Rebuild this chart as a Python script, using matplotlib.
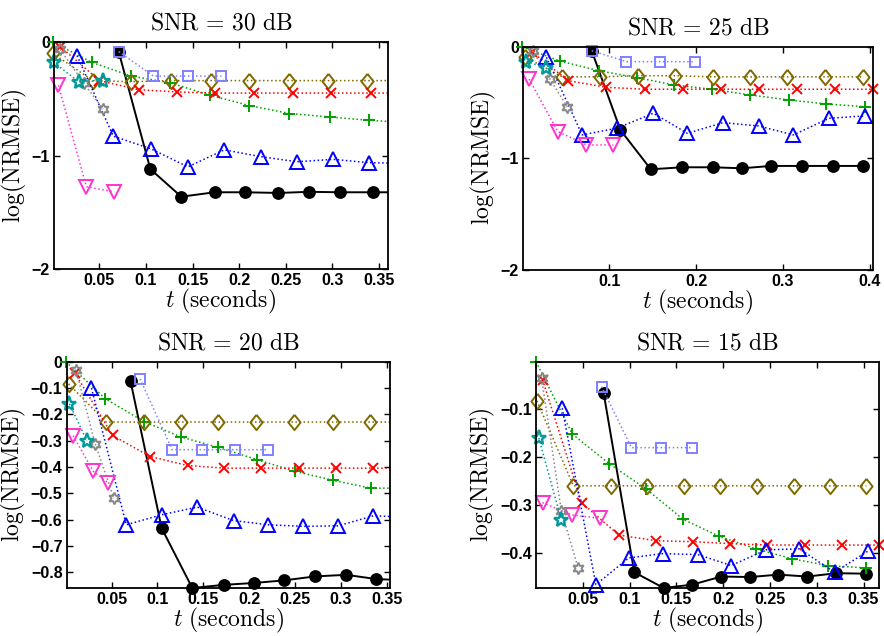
import numpy as np
import matplotlib
matplotlib.use("Agg")
import matplotlib.pyplot as plt

plt.rcParams["mathtext.fontset"] = "cm"

# ---- SNR = 30 dB ----
s30_prop_t = [0.0707, 0.1047, 0.1379, 0.1736, 0.2065, 0.2422, 0.2751, 0.3084, 0.3441, 0.378]
s30_prop_v = [-0.085, -1.12, -1.363, -1.324, -1.324, -1.33, -1.32, -1.324, -1.324, -1.324]
s30_sq_t = [0.0707, 0.108, 0.145, 0.181]
s30_sq_v = [-0.085, -0.30, -0.30, -0.30]
s30_dia_t = [0.0, 0.043, 0.084, 0.127, 0.170, 0.211, 0.253, 0.295, 0.337, 0.379]
s30_dia_v = [-0.10, -0.34, -0.35, -0.34, -0.34, -0.34, -0.34, -0.34, -0.34, -0.34]
s30_plus_t = [0.0, 0.042, 0.084, 0.126, 0.169, 0.211, 0.254, 0.297, 0.339, 0.381]
s30_plus_v = [0.0, -0.18, -0.30, -0.36, -0.47, -0.56, -0.63, -0.66, -0.69, -0.71]
s30_x_t = [0.008, 0.050, 0.092, 0.133, 0.174, 0.216, 0.258, 0.299, 0.341, 0.383]
s30_x_v = [-0.04, -0.34, -0.42, -0.44, -0.45, -0.45, -0.45, -0.45, -0.45, -0.45]
s30_up_t = [0.026, 0.065, 0.105, 0.145, 0.184, 0.223, 0.262, 0.301, 0.339, 0.378]
s30_up_v = [-0.12, -0.83, -0.94, -1.10, -0.95, -1.01, -1.055, -1.034, -1.063, -1.07]
s30_down_t = [0.006, 0.036, 0.066]
s30_down_v = [-0.38, -1.275, -1.32]
s30_hex_t = [0.008, 0.033, 0.054]
s30_hex_v = [-0.065, -0.36, -0.59]
s30_pent_t = [0.001, 0.028, 0.054]
s30_pent_v = [-0.18, -0.35, -0.34]

# ---- SNR = 25 dB ----
s25_prop_t = [0.080, 0.113, 0.148, 0.184, 0.219, 0.253, 0.286, 0.322, 0.357, 0.392]
s25_prop_v = [-0.036, -0.746, -1.098, -1.08, -1.08, -1.089, -1.068, -1.068, -1.068, -1.068]
s25_sq_t = [0.080, 0.120, 0.158, 0.199]
s25_sq_v = [-0.036, -0.134, -0.134, -0.134]
s25_dia_t = [0.003, 0.046, 0.089, 0.133, 0.176, 0.219, 0.262, 0.305, 0.348, 0.392]
s25_dia_v = [-0.09, -0.27, -0.27, -0.26, -0.26, -0.27, -0.27, -0.27, -0.27, -0.27]
s25_plus_t = [0.0, 0.043, 0.088, 0.132, 0.175, 0.218, 0.262, 0.307, 0.350, 0.394]
s25_plus_v = [0.0, -0.128, -0.215, -0.277, -0.343, -0.381, -0.432, -0.477, -0.513, -0.537]
s25_x_t = [0.011, 0.053, 0.097, 0.141, 0.185, 0.229, 0.272, 0.316, 0.360, 0.403]
s25_x_v = [-0.045, -0.304, -0.364, -0.381, -0.381, -0.381, -0.381, -0.381, -0.381, -0.381]
s25_up_t = [0.028, 0.069, 0.109, 0.151, 0.190, 0.231, 0.272, 0.312, 0.353, 0.394]
s25_up_v = [-0.095, -0.79, -0.73, -0.596, -0.776, -0.68, -0.71, -0.79, -0.641, -0.62]
s25_down_t = [0.008, 0.041, 0.074, 0.105]
s25_down_v = [-0.29, -0.76, -0.88, -0.88]
s25_hex_t = [0.012, 0.032, 0.052]
s25_hex_v = [-0.036, -0.29, -0.54]
s25_pent_t = [0.005, 0.028]
s25_pent_v = [-0.134, -0.19]

# ---- SNR = 20 dB ----
s20_prop_t = [0.0707, 0.1046, 0.138, 0.1726, 0.205, 0.2384, 0.272, 0.306, 0.3385, 0.372]
s20_prop_v = [-0.075, -0.632, -0.859, -0.847, -0.84, -0.83, -0.815, -0.809, -0.825, -0.83]
s20_sq_t = [0.081, 0.116, 0.149, 0.185, 0.221]
s20_sq_v = [-0.065, -0.334, -0.334, -0.334, -0.334]
s20_dia_t = [0.003, 0.044, 0.085, 0.126, 0.166, 0.208, 0.249, 0.291, 0.332, 0.373]
s20_dia_v = [-0.084, -0.229, -0.229, -0.229, -0.229, -0.229, -0.229, -0.229, -0.229, -0.229]
s20_plus_t = [0.0, 0.043, 0.085, 0.126, 0.166, 0.209, 0.250, 0.291, 0.333, 0.374]
s20_plus_v = [0.0, -0.14, -0.227, -0.286, -0.325, -0.372, -0.416, -0.45, -0.48, -0.48]
s20_x_t = [0.010, 0.051, 0.092, 0.133, 0.173, 0.213, 0.254, 0.295, 0.335, 0.375]
s20_x_v = [-0.043, -0.28, -0.36, -0.394, -0.404, -0.404, -0.404, -0.404, -0.404, -0.404]
s20_up_t = [0.028, 0.066, 0.1046, 0.1435, 0.183, 0.221, 0.259, 0.297, 0.3356, 0.374]
s20_up_v = [-0.10, -0.619, -0.581, -0.552, -0.603, -0.619, -0.625, -0.623, -0.585, -0.59]
s20_down_t = [0.008, 0.030, 0.046]
s20_down_v = [-0.281, -0.416, -0.46]
s20_hex_t = [0.011, 0.032, 0.0525]
s20_hex_v = [-0.030, -0.311, -0.518]
s20_pent_t = [0.004, 0.023]
s20_pent_v = [-0.16, -0.30]

# ---- SNR = 15 dB ----
s15_prop_t = [0.0723, 0.105, 0.1365, 0.1669, 0.198, 0.229, 0.259, 0.290, 0.321, 0.353]
s15_prop_v = [-0.066, -0.441, -0.474, -0.467, -0.45, -0.451, -0.446, -0.45, -0.443, -0.444]
s15_sq_t = [0.070, 0.102, 0.134, 0.1665]
s15_sq_v = [-0.052, -0.18, -0.18, -0.18]
s15_dia_t = [0.001, 0.040, 0.080, 0.119, 0.158, 0.197, 0.236, 0.2755, 0.314, 0.353]
s15_dia_v = [-0.082, -0.26, -0.26, -0.26, -0.26, -0.26, -0.26, -0.26, -0.26, -0.26]
s15_plus_t = [0.0, 0.039, 0.0785, 0.118, 0.157, 0.196, 0.235, 0.274, 0.312, 0.353]
s15_plus_v = [0.0, -0.152, -0.214, -0.267, -0.33, -0.366, -0.392, -0.413, -0.427, -0.432]
s15_x_t = [0.007, 0.049, 0.0885, 0.128, 0.168, 0.2075, 0.247, 0.287, 0.327, 0.366]
s15_x_v = [-0.038, -0.296, -0.363, -0.375, -0.377, -0.381, -0.384, -0.384, -0.384, -0.384]
s15_up_t = [0.028, 0.064, 0.099, 0.1355, 0.173, 0.2085, 0.246, 0.2815, 0.319, 0.3545]
s15_up_v = [-0.0975, -0.467, -0.411, -0.402, -0.404, -0.427, -0.394, -0.392, -0.441, -0.397]
s15_down_t = [0.007, 0.038, 0.068]
s15_down_v = [-0.295, -0.321, -0.328]
s15_hex_t = [0.006, 0.027, 0.045]
s15_hex_v = [-0.035, -0.312, -0.432]
s15_pent_t = [0.003, 0.027]
s15_pent_v = [-0.16, -0.331]

DIAMOND = [(0, 1), (0.8, 0), (0, -1), (-0.8, 0), (0, 1)]

STYLES = {
    "prop": dict(color="k", ls="-", lw=1.4, marker="o", ms=8.2, mfc="k", mew=1.0),
    "plus": dict(color="#00a000", ls=":", lw=1.1, marker="+", ms=8, mfc="none", mew=1.4),
    "dia": dict(color="#7f6a00", ls=":", lw=1.1, marker=DIAMOND, ms=11, mfc="none", mew=1.4),
    "x": dict(color="#ff0000", ls=":", lw=1.1, marker="x", ms=6.5, mfc="none", mew=1.4),
    "sq": dict(color="#8080ff", ls=":", lw=1.1, marker="s", ms=7, mfc="none", mew=1.4),
    "up": dict(color="#0000ff", ls=":", lw=1.1, marker="^", ms=9.5, mfc="none", mew=1.4),
    "down": dict(color="#ff33cc", ls=":", lw=1.1, marker="v", ms=9.5, mfc="none", mew=1.4),
    "hex": dict(color="#888888", ls=":", lw=1.1, marker=(6, 1, 0), ms=8.5, mfc="none", mew=1.4),
    "pent": dict(color="#009a9a", ls=":", lw=1.1, marker="*", ms=11, mfc="none", mew=1.7),
}
# drawing order
ORDER = ["prop", "plus", "dia", "x", "sq", "up", "down", "hex", "pent"]

PANELS = [
    dict(snr="30", pos=[54, 388, 42, 269], xlim=(0.0013, 0.3597), ylim=(-2, 0),
         xticks=[0.05, 0.1, 0.15, 0.2, 0.25, 0.3, 0.35], yticks=[-2, -1, 0],
         ylabels=["\u22122", "\u22121", "0"],
         data={"prop": (s30_prop_t, s30_prop_v), "sq": (s30_sq_t, s30_sq_v),
               "dia": (s30_dia_t, s30_dia_v), "plus": (s30_plus_t, s30_plus_v),
               "x": (s30_x_t, s30_x_v), "up": (s30_up_t, s30_up_v),
               "down": (s30_down_t, s30_down_v), "hex": (s30_hex_t, s30_hex_v),
               "pent": (s30_pent_t, s30_pent_v)}),
    dict(snr="25", pos=[523, 873, 46.7, 270], xlim=(0.001, 0.4035), ylim=(-2, 0),
         xticks=[0.1, 0.2, 0.3, 0.4], yticks=[-2, -1, 0],
         ylabels=["\u22122", "\u22121", "0"],
         data={"prop": (s25_prop_t, s25_prop_v), "sq": (s25_sq_t, s25_sq_v),
               "dia": (s25_dia_t, s25_dia_v), "plus": (s25_plus_t, s25_plus_v),
               "x": (s25_x_t, s25_x_v), "up": (s25_up_t, s25_up_v),
               "down": (s25_down_t, s25_down_v), "hex": (s25_hex_t, s25_hex_v),
               "pent": (s25_pent_t, s25_pent_v)}),
    dict(snr="20", pos=[66.7, 390, 361.7, 588], xlim=(0.001, 0.3537), ylim=(-0.859, 0),
         xticks=[0.05, 0.1, 0.15, 0.2, 0.25, 0.3, 0.35],
         yticks=[-0.8, -0.7, -0.6, -0.5, -0.4, -0.3, -0.2, -0.1, 0],
         ylabels=["\u22120.8", "\u22120.7", "\u22120.6", "\u22120.5", "\u22120.4",
                  "\u22120.3", "\u22120.2", "\u22120.1", "0"],
         data={"prop": (s20_prop_t, s20_prop_v), "sq": (s20_sq_t, s20_sq_v),
               "dia": (s20_dia_t, s20_dia_v), "plus": (s20_plus_t, s20_plus_v),
               "x": (s20_x_t, s20_x_v), "up": (s20_up_t, s20_up_v),
               "down": (s20_down_t, s20_down_v), "hex": (s20_hex_t, s20_hex_v),
               "pent": (s20_pent_t, s20_pent_v)}),
    dict(snr="15", pos=[536, 879, 361.7, 588], xlim=(0.0, 0.3665), ylim=(-0.474, 0),
         xticks=[0.05, 0.1, 0.15, 0.2, 0.25, 0.3, 0.35],
         yticks=[-0.4, -0.3, -0.2, -0.1],
         ylabels=["\u22120.4", "\u22120.3", "\u22120.2", "\u22120.1"],
         data={"prop": (s15_prop_t, s15_prop_v), "sq": (s15_sq_t, s15_sq_v),
               "dia": (s15_dia_t, s15_dia_v), "plus": (s15_plus_t, s15_plus_v),
               "x": (s15_x_t, s15_x_v), "up": (s15_up_t, s15_up_v),
               "down": (s15_down_t, s15_down_v), "hex": (s15_hex_t, s15_hex_v),
               "pent": (s15_pent_t, s15_pent_v)}),
]

W, H = 884, 636
fig = plt.figure(figsize=(W / 100, H / 100), dpi=100)

for p in PANELS:
    l, r, t, b = p["pos"]
    ax = fig.add_axes([l / W, 1 - b / H, (r - l) / W, (b - t) / H])
    xmin, xmax = p["xlim"]
    for key in ORDER:
        st = STYLES[key]
        tt, vv = np.asarray(p["data"][key][0]), np.asarray(p["data"][key][1])
        # line is clipped at the axes, markers inside the range are drawn whole
        ax.plot(tt, vv, color=st["color"], ls=st["ls"], lw=st["lw"])
        inside = (tt >= xmin - 0.004) & (tt <= xmax + 0.002)
        ax.plot(tt[inside], vv[inside], ls="none", marker=st["marker"], ms=st["ms"],
                mec=st["color"], mfc=st["mfc"], mew=st["mew"], clip_on=False)
    ax.set_xlim(xmin, xmax)
    ax.set_ylim(*p["ylim"])
    ax.set_xticks(p["xticks"])
    ax.set_xticklabels([f"{x:g}" for x in p["xticks"]])
    ax.set_yticks(p["yticks"])
    ax.set_yticklabels(p["ylabels"])
    ax.tick_params(direction="in", top=True, right=True, length=4, width=1.0,
                   labelsize=11.5, pad=3)
    for lab in ax.get_xticklabels() + ax.get_yticklabels():
        lab.set_fontweight("bold")
        lab.set_family("Liberation Sans")
    for sp in ax.spines.values():
        sp.set_linewidth(1.3)
    ax.set_title(r"$\mathrm{SNR}\,=\,%s\ \mathrm{dB}$" % p["snr"], fontsize=17, pad=9)
    ax.set_xlabel(r"$t\ (\mathrm{seconds})$", fontsize=17, labelpad=-1)
    ax.set_ylabel(r"$\log(\mathrm{NRMSE})$", fontsize=17, labelpad=2)

fig.savefig("out.png", dpi=100)
